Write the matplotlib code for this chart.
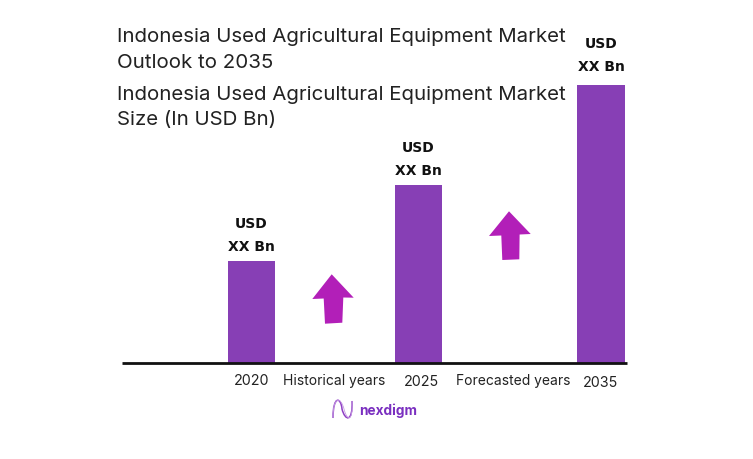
"""Indonesia used agricultural equipment market outlook, bar chart with growth arrows."""

import matplotlib
matplotlib.use("Agg")
import matplotlib.pyplot as plt
from matplotlib.patches import PathPatch, Polygon
from matplotlib.path import Path

WIDTH, HEIGHT = 753, 460
BASE_Y = 364  # pixel row of the axis line

years = ["2020", "2025", "2035"]
bar_values = [102, 178, 278]
bar_labels = ["USD\nXX Bn", "USD\nXX Bn", "USD\nXX Bn"]
period_labels = ["Historical years", "Forecasted years"]
title_lines = [
    "Indonesia Used Agricultural Equipment Market",
    "Outlook to 2035",
    "Indonesia Used Agricultural Equipment Market",
    "Size (In USD Bn)",
]

# layout
bar_x = [251.5, 418.5, 601]
label_rows = [(224, 247), (148, 171), (44, 67)]
year_x = [252, 421, 601]
year_y = [381.5, 382.5, 383.5]
period_x = [334.5, 513]
title_y = [37.5, 63, 94.5, 120]
PURPLE = "#873FB5"
MAGENTA = "#B21FB8"
FONT = "Inter"


def py(row):
    """Pixel row (from top) to data y."""
    return BASE_Y - row


fig = plt.figure(figsize=(WIDTH / 100, HEIGHT / 100), dpi=100)
ax = fig.add_axes([0, 0, 1, 1])
ax.set_xlim(0, WIDTH)
ax.set_ylim(py(HEIGHT), py(0))
ax.axis("off")

# ── Bars ───────────────────────────────────────────────────
ax.bar(bar_x, bar_values, width=47.5, color=PURPLE, zorder=2)
ax.plot([122, 627], [0, 0], color="#111111", lw=2, solid_capstyle="butt", zorder=3)

# ── Labels ─────────────────────────────────────────────────
for x, rows, label in zip(bar_x, label_rows, bar_labels):
    for row, part in zip(rows, label.split("\n")):
        ax.text(x, py(row), part, ha="center", va="center", family="DejaVu Sans",
                fontsize=10, fontweight="bold", color="#111111")

for x, y, label in zip(year_x, year_y, years):
    ax.text(x, py(y), label, ha="center", va="center", family=FONT,
            fontsize=10.3, color="#222222")
for x, label in zip(period_x, period_labels):
    ax.text(x, py(381.5), label, ha="center", va="center", family=FONT,
            fontsize=10, color="#222222")

for y, line in zip(title_y, title_lines):
    ax.text(117, py(y), line, ha="left", va="center", family=FONT,
            fontsize=14.75, color="#222222")

# ── Arrows ─────────────────────────────────────────────────
arrows = [
    [(331.7, 275.3), (353.7, 298.7), (343.3, 298.5), (342.3, 323.7),
     (325, 324.7), (323.7, 299.5), (312.3, 300)],
    [(509, 212.3), (530.7, 235), (519.6, 235.5), (519.3, 260.3),
     (502.3, 261), (501.3, 236.5), (489, 237)],
]
for pts in arrows:
    ax.add_patch(Polygon([(x, py(y)) for x, y in pts], closed=True,
                         color=MAGENTA, lw=0, zorder=2))

# ── Logo ───────────────────────────────────────────────────
for offset, lw, col in [(0, 1.1, "#8E3FC4"), (2, 0.6, "#C79BE3")]:
    verts = [(333, 419), (333, 396), (341, 398), (342 + offset, 410),
             (345 + offset, 422), (353, 424), (352, 402)]
    codes = [Path.MOVETO] + [Path.CURVE4] * 6
    ax.add_patch(PathPatch(Path([(x, py(y)) for x, y in verts], codes),
                           fill=False, edgecolor=col, lw=lw))
ax.text(359, py(410.5), "nexdigm", ha="left", va="center", family=FONT,
        fontsize=9.8, fontweight="bold", color="#7A2FC0")

fig.savefig("out.png", dpi=100)
